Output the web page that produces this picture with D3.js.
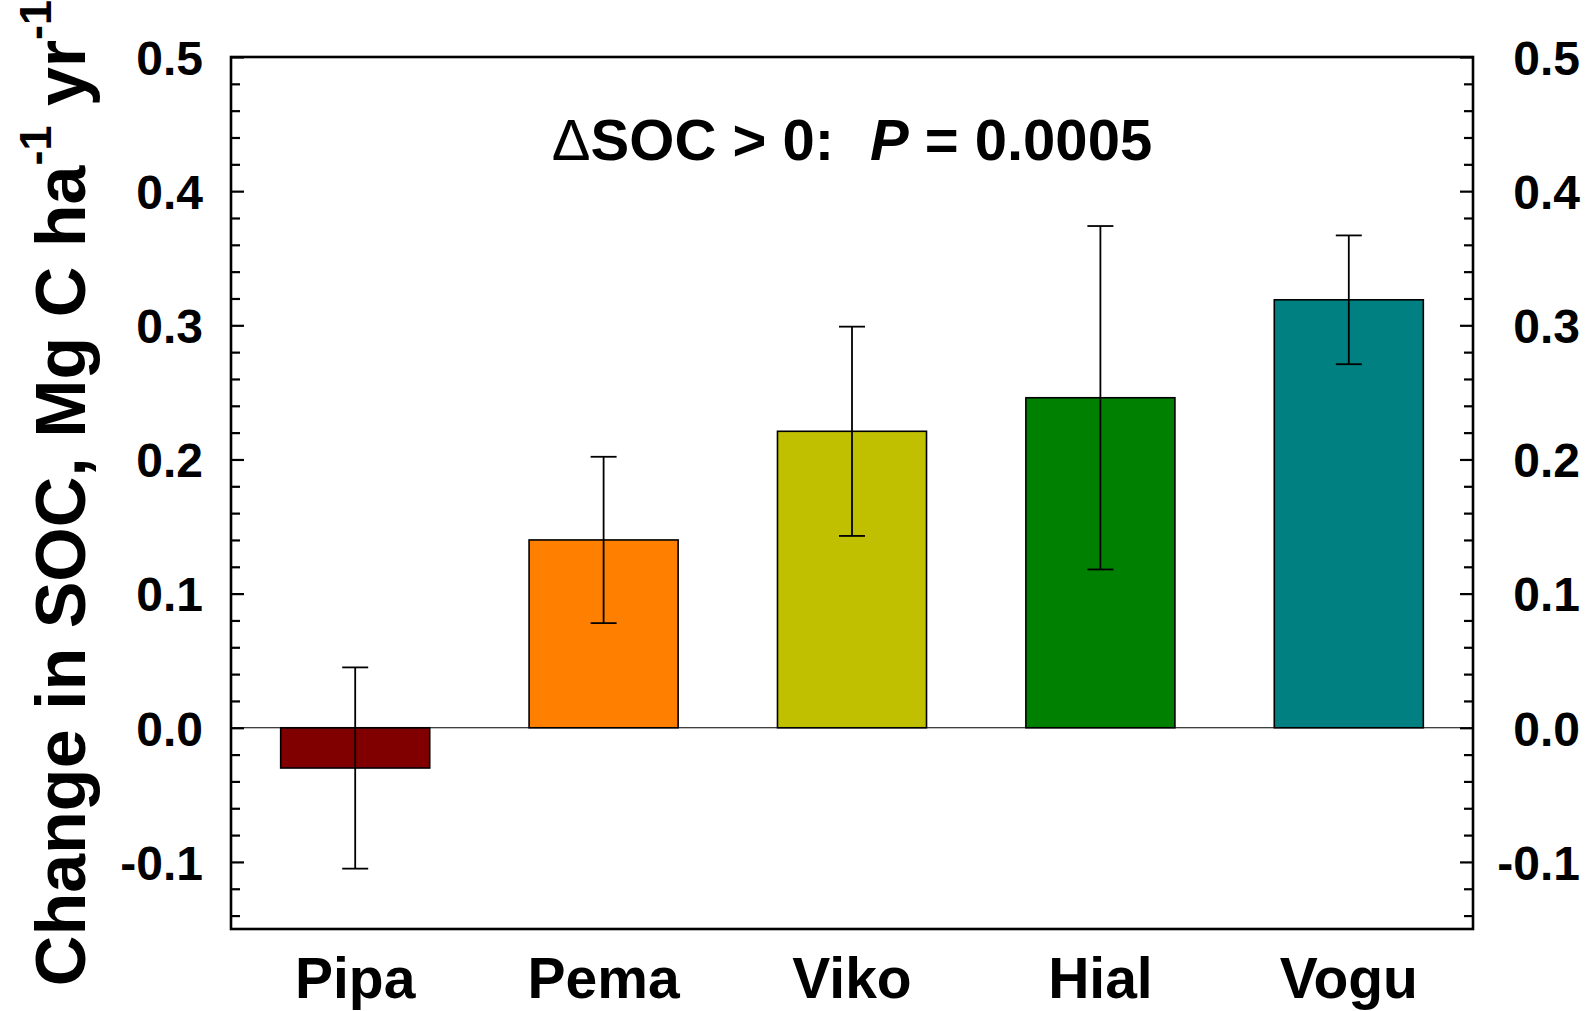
<!DOCTYPE html>
<html>
<head>
<meta charset="utf-8">
<script src="https://cdn.jsdelivr.net/npm/d3@7/dist/d3.min.js"></script>
<style>
  html, body { margin: 0; padding: 0; background: #fff; }
  svg { display: block; }
  text { font-family: "Liberation Sans", Arial, sans-serif; font-weight: bold; fill: #000; }
</style>
</head>
<body>
<script>
// ---- data ----
const categories = ["Pipa", "Pema", "Viko", "Hial", "Vogu"];
const values = [-0.030, 0.140, 0.221, 0.246, 0.319];
const errors = [0.075, 0.062, 0.078, 0.128, 0.048];
const colors = ["#800000", "#FF8000", "#C0C000", "#008000", "#008080"];
const majorTicks = [-0.1, 0.0, 0.1, 0.2, 0.3, 0.4, 0.5];
const tickLabels = ["-0.1", "0.0", "0.1", "0.2", "0.3", "0.4", "0.5"];
const minorTicks = d3.range(-0.14, 0.5, 0.02).map(v => +v.toFixed(2)).filter(v => Math.abs(Math.round(v * 10) - v * 10) > 1e-6);

const W = 1593, H = 1011;
const margin = { left: 231, top: 57, right: 120, bottom: 82 };
const iw = W - margin.left - margin.right;
const ih = H - margin.top - margin.bottom;

const svg = d3.select("body").append("svg").attr("width", W).attr("height", H);
const g = svg.append("g").attr("transform", `translate(${margin.left},${margin.top})`);

const x = d3.scaleBand().domain(categories).range([0, iw]).paddingInner(0.4).paddingOuter(0.2);
const y = d3.scaleLinear().domain([-0.15, 0.5]).range([ih, 0]);

// bars
g.selectAll("rect.bar").data(categories).join("rect")
  .attr("class", "bar")
  .attr("x", d => x(d))
  .attr("width", x.bandwidth())
  .attr("y", (d, i) => y(Math.max(0, values[i])))
  .attr("height", (d, i) => Math.abs(y(values[i]) - y(0)))
  .attr("fill", (d, i) => colors[i])
  .attr("stroke", "#000")
  .attr("stroke-width", 1.6);

// zero line
g.append("line")
  .attr("x1", 0).attr("x2", iw)
  .attr("y1", y(0)).attr("y2", y(0))
  .attr("stroke", "#000").attr("stroke-width", 1.2);

// error bars
const capW = 13;
const eb = g.selectAll("g.err").data(categories).join("g").attr("class", "err");
eb.append("line")
  .attr("x1", d => x(d) + x.bandwidth() / 2).attr("x2", d => x(d) + x.bandwidth() / 2)
  .attr("y1", (d, i) => y(values[i] + errors[i])).attr("y2", (d, i) => y(values[i] - errors[i]))
  .attr("stroke", "#000").attr("stroke-width", 1.8);
eb.append("line")
  .attr("x1", d => x(d) + x.bandwidth() / 2 - capW).attr("x2", d => x(d) + x.bandwidth() / 2 + capW)
  .attr("y1", (d, i) => y(values[i] + errors[i])).attr("y2", (d, i) => y(values[i] + errors[i]))
  .attr("stroke", "#000").attr("stroke-width", 1.8);
eb.append("line")
  .attr("x1", d => x(d) + x.bandwidth() / 2 - capW).attr("x2", d => x(d) + x.bandwidth() / 2 + capW)
  .attr("y1", (d, i) => y(values[i] - errors[i])).attr("y2", (d, i) => y(values[i] - errors[i]))
  .attr("stroke", "#000").attr("stroke-width", 1.8);

// axes (ticks inside)
const tickFmt = d => tickLabels[majorTicks.indexOf(d)];
const leftAxis = d3.axisLeft(y).tickValues(majorTicks).tickSize(-13).tickPadding(40).tickFormat(tickFmt);
const rightAxis = d3.axisRight(y).tickValues(majorTicks).tickSize(-13).tickPadding(40).tickFormat(tickFmt);
const leftMinor = d3.axisLeft(y).tickValues(minorTicks).tickSize(-9).tickFormat("");
const rightMinor = d3.axisRight(y).tickValues(minorTicks).tickSize(-9).tickFormat("");

function styleAxis(sel) {
  sel.select(".domain").remove();
  sel.selectAll(".tick line").attr("stroke", "#000").attr("stroke-width", 2.2);
}

const la = g.append("g").call(leftAxis);
styleAxis(la);
la.selectAll(".tick text").attr("x", -28).attr("dy", "0.36em").style("font-size", "48px").style("font-family", "'Liberation Sans', Arial, sans-serif").style("font-weight", "bold");
const lm = g.append("g").call(leftMinor); styleAxis(lm);

const ra = g.append("g").attr("transform", `translate(${iw},0)`).call(rightAxis);
styleAxis(ra);
ra.selectAll(".tick text").attr("text-anchor", "end").attr("x", 107).attr("dy", "0.36em").style("font-size", "48px").style("font-family", "'Liberation Sans', Arial, sans-serif").style("font-weight", "bold");
const rm = g.append("g").attr("transform", `translate(${iw},0)`).call(rightMinor); styleAxis(rm);

// frame
g.append("rect").attr("x", 0).attr("y", 0).attr("width", iw).attr("height", ih)
  .attr("fill", "none").attr("stroke", "#000").attr("stroke-width", 2.6);

// category labels
const xa = d3.axisBottom(x).tickSize(0).tickPadding(0);
const xg = g.append("g").attr("transform", `translate(0,${ih})`).call(xa);
xg.select(".domain").remove();
xg.selectAll(".tick text").attr("y", 998 - margin.top - ih).attr("dy", 0)
  .style("font-size", "57px").style("font-family", "'Liberation Sans', Arial, sans-serif").style("font-weight", "bold");

// annotation
const ann = svg.append("text")
  .attr("x", margin.left + iw / 2).attr("y", 160)
  .attr("text-anchor", "middle")
  .style("font-size", "58px");
ann.append("tspan").style("font-weight", "normal").text("\u0394");
ann.append("tspan").text("SOC > 0:");
ann.append("tspan").attr("dx", 36).style("font-style", "italic").text("P");
ann.append("tspan").text(" = 0.0005");

// y-axis title
const yt = svg.append("text")
  .attr("transform", "translate(85,493) rotate(-90)")
  .attr("text-anchor", "middle")
  .style("font-size", "70px");
yt.append("tspan").text("Change in SOC, Mg C ha");
yt.append("tspan").attr("dy", -34).style("font-size", "45px").text("-1");
yt.append("tspan").attr("dy", 34).text(" yr");
yt.append("tspan").attr("dy", -34).style("font-size", "45px").text("-1");
</script>
</body>
</html>
